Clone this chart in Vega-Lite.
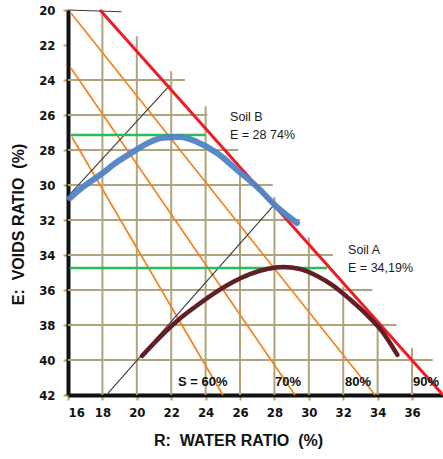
{
  "$schema": "https://vega.github.io/schema/vega-lite/v6.json",
  "width": 375,
  "height": 385,
  "autosize": {"type": "none"},
  "padding": {"left": 68, "top": 10, "right": 0, "bottom": 64},
  "config": {"view": {"stroke": null}, "font": "Liberation Sans"},
  "datasets": {
    "vgrid": [
      {"x": 18, "E": 20, "E2": 42}, {"x": 20, "E": 21.5, "E2": 42}, {"x": 22, "E": 23.5, "E2": 42},
      {"x": 24, "E": 25.5, "E2": 42}, {"x": 26, "E": 29.3, "E2": 42}, {"x": 28, "E": 30.7, "E2": 42},
      {"x": 30, "E": 33.0, "E2": 42}, {"x": 32, "E": 35.8, "E2": 42}, {"x": 34, "E": 38.0, "E2": 42},
      {"x": 36, "E": 39.3, "E2": 42}
    ],
    "hgrid": [
      {"E": 24, "x": 16, "x2": 22.8}, {"E": 26, "x": 16, "x2": 24.1}, {"E": 28, "x": 16, "x2": 25.9},
      {"E": 30, "x": 16, "x2": 27.9}, {"E": 32, "x": 16, "x2": 29.5}, {"E": 34, "x": 16, "x2": 31.4},
      {"E": 36, "x": 16, "x2": 33.7}, {"E": 38, "x": 16, "x2": 35.1}, {"E": 40, "x": 16, "x2": 37.2}
    ],
    "lines": [
      {"s": "S80", "x": 16.17, "E": 20.17}, {"s": "S80", "x": 33.85, "E": 42},
      {"s": "S70", "x": 16.17, "E": 23.31}, {"s": "S70", "x": 29.2, "E": 42},
      {"s": "S60", "x": 16.23, "E": 27.26}, {"s": "S60", "x": 25.0, "E": 42},
      {"s": "K1", "x": 16.17, "E": 30.46}, {"s": "K1", "x": 21.93, "E": 24.29},
      {"s": "K2", "x": 18.33, "E": 41.89}, {"s": "K2", "x": 27.98, "E": 31.14},
      {"s": "G1", "x": 16.17, "E": 27.14}, {"s": "G1", "x": 23.97, "E": 27.14},
      {"s": "G2", "x": 16.1, "E": 34.74}, {"s": "G2", "x": 31.06, "E": 34.74},
      {"s": "TOP", "x": 16, "E": 20}, {"s": "TOP", "x": 19.1, "E": 20.1},
      {"s": "S90", "x": 17.86, "E": 20}, {"s": "S90", "x": 37.8, "E": 42}
    ],
    "soilB": [
      {"x": 16.12, "E": 30.74}, {"x": 16.87, "E": 30.11}, {"x": 17.86, "E": 29.43}, {"x": 18.85, "E": 28.69},
      {"x": 19.78, "E": 28.11}, {"x": 20.77, "E": 27.54}, {"x": 21.52, "E": 27.3}, {"x": 22.51, "E": 27.26},
      {"x": 23.5, "E": 27.54}, {"x": 24.66, "E": 28.17}, {"x": 25.83, "E": 29.14}, {"x": 26.99, "E": 30.11},
      {"x": 28.15, "E": 31.26}, {"x": 29.31, "E": 32.17}
    ],
    "soilA": [
      {"x": 20.3, "E": 39.77}, {"x": 21.35, "E": 38.69}, {"x": 22.34, "E": 37.77}, {"x": 23.38, "E": 36.97},
      {"x": 24.43, "E": 36.23}, {"x": 25.59, "E": 35.54}, {"x": 26.58, "E": 35.09}, {"x": 27.57, "E": 34.8},
      {"x": 28.5, "E": 34.69}, {"x": 29.49, "E": 34.8}, {"x": 30.48, "E": 35.2}, {"x": 31.41, "E": 35.75},
      {"x": 32.35, "E": 36.5}, {"x": 33.3, "E": 37.35}, {"x": 34.25, "E": 38.35}, {"x": 35.15, "E": 39.71}
    ],
    "notes": [
      {"x": 25.42, "E": 26.11, "label": "Soil B"},
      {"x": 25.42, "E": 27.14, "label": "E = 28 74%"},
      {"x": 32.28, "E": 33.71, "label": "Soil A"},
      {"x": 32.28, "E": 34.74, "label": "E = 34,19%"}
    ],
    "slabels": [
      {"x": 22.4, "E": 41.26, "label": "S = 60%"},
      {"x": 28.03, "E": 41.26, "label": "70%"},
      {"x": 32.1, "E": 41.26, "label": "80%"},
      {"x": 36.06, "E": 41.26, "label": "90%"}
    ]
  },
  "encoding": {
    "x": {
      "field": "x", "type": "quantitative",
      "scale": {"domain": [16, 37.8], "nice": false, "zero": false},
      "axis": {
        "values": [16, 18, 20, 22, 24, 26, 28, 30, 32, 34, 36],
        "grid": false, "domainColor": "#111", "domainWidth": 4,
        "tickColor": "#b0a57a", "tickWidth": 2, "tickSize": 5,
        "labelFont": "Liberation Sans Narrow, DejaVu Sans Condensed, sans-serif", "labelFontWeight": "bold", "labelFontSize": 13, "labelColor": "#111",
        "labelPadding": 6,
        "title": "R:\u00a0\u00a0WATER RATIO\u00a0\u00a0(%)", "titleFont": "Liberation Sans", "titleFontWeight": "bold",
        "titleFontSize": 16, "titleColor": "#111", "titleX": 170, "titleY": 45, "titleBaseline": "middle", "titleAlign": "center"
      }
    },
    "y": {
      "field": "E", "type": "quantitative",
      "scale": {"domain": [20, 42], "nice": false, "zero": false, "reverse": true},
      "axis": {
        "values": [20, 22, 24, 26, 28, 30, 32, 34, 36, 38, 40, 42],
        "grid": false, "domainColor": "#111", "domainWidth": 4,
        "tickColor": "#b0a57a", "tickWidth": 2, "tickSize": 5,
        "labelFont": "Liberation Sans Narrow, DejaVu Sans Condensed, sans-serif", "labelFontWeight": "bold", "labelFontSize": 13, "labelColor": "#111",
        "labelPadding": 8,
        "title": "E:\u00a0\u00a0VOIDS RATIO\u00a0\u00a0(%)", "titleFont": "Liberation Sans", "titleFontWeight": "bold",
        "titleFontSize": 16, "titleColor": "#111", "titleX": -50, "titleY": 214, "titleAngle": -90,
        "titleBaseline": "middle", "titleAlign": "center"
      }
    }
  },
  "layer": [
    {
      "data": {"name": "vgrid"},
      "mark": {"type": "rule", "color": "#b0a57a", "strokeWidth": 2},
      "encoding": {"y2": {"field": "E2"}}
    },
    {
      "data": {"name": "hgrid"},
      "mark": {"type": "rule", "color": "#b0a57a", "strokeWidth": 2},
      "encoding": {"x2": {"field": "x2"}}
    },
    {
      "data": {"name": "lines"},
      "transform": [{"filter": "datum.s == 'S80' || datum.s == 'S70' || datum.s == 'S60'"}],
      "mark": {"type": "line", "color": "#f5821f", "strokeWidth": 1.7},
      "encoding": {"detail": {"field": "s"}}
    },
    {
      "data": {"name": "lines"},
      "transform": [{"filter": "datum.s == 'K1' || datum.s == 'K2' || datum.s == 'TOP'"}],
      "mark": {"type": "line", "color": "#3a3a3a", "strokeWidth": 1.1},
      "encoding": {"detail": {"field": "s"}}
    },
    {
      "data": {"name": "lines"},
      "transform": [{"filter": "datum.s == 'G1' || datum.s == 'G2'"}],
      "mark": {"type": "line", "color": "#2dbb5a", "strokeWidth": 2.4},
      "encoding": {"detail": {"field": "s"}}
    },
    {
      "data": {"name": "lines"},
      "transform": [{"filter": "datum.s == 'S90'"}],
      "mark": {"type": "line", "color": "#ee1c24", "strokeWidth": 3},
      "encoding": {"detail": {"field": "s"}}
    },
    {
      "data": {"name": "soilB"},
      "mark": {"type": "line", "color": "#4f84c4", "strokeWidth": 6, "interpolate": "monotone", "strokeCap": "round", "opacity": 0.95}
    },
    {
      "data": {"name": "soilA"},
      "mark": {"type": "line", "color": "#5f1f24", "strokeWidth": 4.5, "interpolate": "monotone", "strokeCap": "round"}
    },
    {
      "data": {"name": "notes"},
      "mark": {"type": "text", "align": "left", "baseline": "middle", "fontSize": 12.5, "color": "#1a1a1a", "font": "Liberation Sans"},
      "encoding": {"text": {"field": "label"}}
    },
    {
      "data": {"name": "slabels"},
      "mark": {"type": "text", "align": "left", "baseline": "middle", "fontSize": 13, "fontWeight": "bold", "color": "#111", "font": "Liberation Sans"},
      "encoding": {"text": {"field": "label"}}
    }
  ]
}
